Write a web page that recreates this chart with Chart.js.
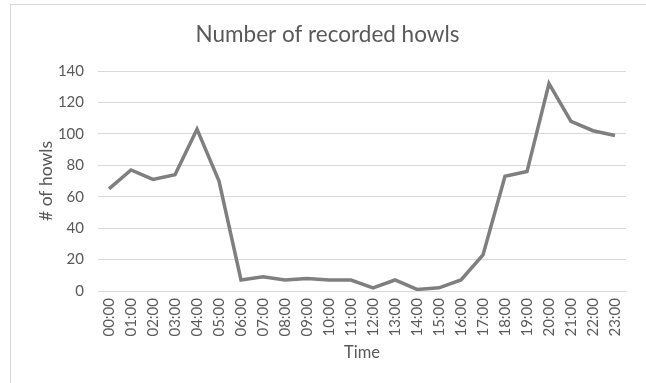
<!DOCTYPE html>
<html>
<head>
<meta charset="utf-8">
<script src="https://cdn.jsdelivr.net/npm/chart.js@4/dist/chart.umd.min.js"></script>
<style>
  html, body { margin: 0; padding: 0; background: #fff; overflow: hidden; }
  #wrap { position: relative; width: 646px; height: 383px; }
  #frame { position: absolute; left: 10px; top: 4px; width: 700px; height: 500px;
           border: 1px solid #d9d9d9; box-sizing: border-box; }
  canvas { position: absolute; left: 0; top: 0; }
</style>
</head>
<body>
<div id="wrap">
  <div id="frame"></div>
  <canvas id="c" width="646" height="383"></canvas>
</div>
<script>
// Hour of day
const hours = ['00:00','01:00','02:00','03:00','04:00','05:00','06:00','07:00',
               '08:00','09:00','10:00','11:00','12:00','13:00','14:00','15:00',
               '16:00','17:00','18:00','19:00','20:00','21:00','22:00','23:00'];
// Howls recorded in each hour
const howls = [65, 77, 71, 74, 103, 70, 7, 9, 7, 8, 7, 7, 2, 7, 1, 2, 7, 23, 73, 76, 132, 108, 102, 99];
// Value axis range
const yMin = 0;
const yMax = 140;
const yStep = 20;

const FONT = 'Lato, "Open Sans", sans-serif';
const TXT = '#595959';

new Chart(document.getElementById('c'), {
  type: 'line',
  data: {
    labels: hours,
    datasets: [{
      label: 'Howls',
      data: howls,
      borderColor: '#7f7f7f',
      backgroundColor: '#7f7f7f',
      borderWidth: 3.5,
      pointRadius: 0,
      tension: 0,
      fill: false,
      yAxisID: 'y'
    }]
  },
  options: {
    responsive: false,
    animation: false,
    layout: { padding: { left: 9, right: 0, top: 0, bottom: 0 } },
    plugins: {
      legend: { display: false },
      tooltip: { enabled: false },
      title: {
        display: true,
        text: 'Number of recorded howls',
        color: TXT,
        font: { family: FONT, size: 22.5, weight: 'normal', lineHeight: 1.2 },
        padding: { top: 21.5, bottom: 22.5 }
      }
    },
    scales: {
      x: {
        offset: true,
        grid: { display: false, drawTicks: false },
        border: { display: true, color: '#d9d9d9', width: 1 },
        ticks: {
          color: TXT,
          font: { family: FONT, size: 15 },
          minRotation: 90,
          maxRotation: 90,
          autoSkip: false,
          padding: 7
        },
        title: {
          display: true,
          text: 'Time',
          color: TXT,
          font: { family: FONT, size: 16.5 },
          padding: { top: 0, bottom: 20 }
        },
        afterFit: s => { s.height = 92; }
      },
      y: {
        min: yMin,
        max: yMax,
        grid: { color: '#d9d9d9', lineWidth: 1, drawTicks: false },
        border: { display: false },
        ticks: {
          stepSize: yStep,
          color: TXT,
          font: { family: FONT, size: 15 },
          padding: 14
        },
        title: {
          display: true,
          text: '# of howls',
          color: TXT,
          font: { family: FONT, size: 17.5 },
          padding: { top: 26.5, bottom: 0 }
        },
        afterFit: s => { s.width = 89; }
      },
      // empty right-hand margin column
      yr: {
        type: 'linear',
        position: 'right',
        display: true,
        grid: { display: false, drawTicks: false },
        border: { display: false },
        ticks: { display: false },
        afterFit: s => { s.width = 20; }
      }
    }
  }
});
</script>
</body>
</html>
